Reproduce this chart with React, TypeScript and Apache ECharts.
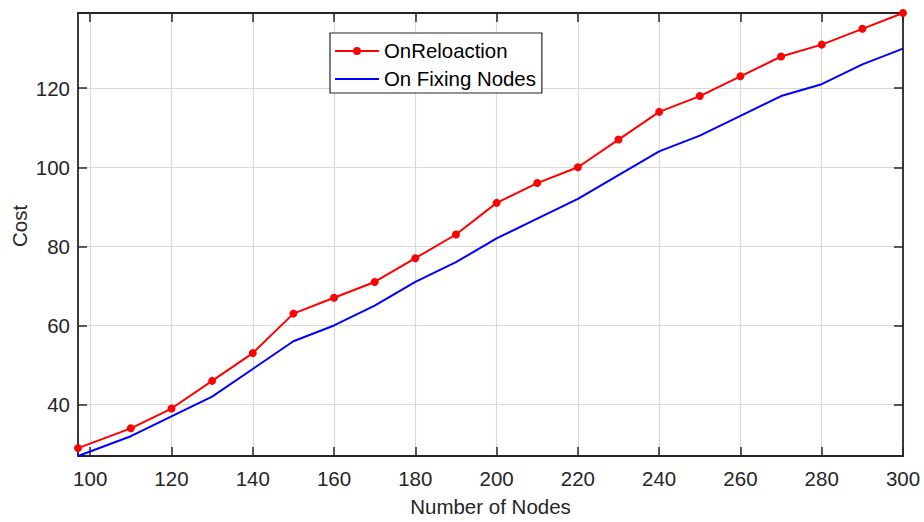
import React, { useEffect, useRef } from "react";
import * as echarts from "echarts";

const xValues = [97, 110, 120, 130, 140, 150, 160, 170, 180, 190, 200, 210, 220, 230, 240, 250, 260, 270, 280, 290, 300];
const relocation = [29, 34, 39, 46, 53, 63, 67, 71, 77, 83, 91, 96, 100, 107, 114, 118, 123, 128, 131, 135, 139];
const fixing = [27, 32, 37, 42, 49, 56, 60, 65, 71, 76, 82, 87, 92, 98, 104, 108, 113, 118, 121, 126, 130];
const xTicks = [100, 120, 140, 160, 180, 200, 220, 240, 260, 280, 300];
const yTicks = [40, 60, 80, 100, 120];

const FONT = "'Liberation Sans', Arial, Helvetica, sans-serif";
const AXIS_COLOR = "#262626";
const TICK_FONT = 20.5;

export default function App() {
  const ref = useRef<HTMLDivElement>(null);
  useEffect(() => {
    if (!ref.current) return;
    const chart = echarts.init(ref.current, null, { renderer: "svg" });
    const xMin = 97, xMax = 300, yMin = 27, yMax = 139;
    const baseAxisLine = { show: true, onZero: false, lineStyle: { color: AXIS_COLOR, width: 1.8 } };
    const redIcon = "path://M0,6 L18,6 L18,8 L0,8 Z M26,6 L44,6 L44,8 L26,8 Z M18,7 A4,4 0 1 0 26,7 A4,4 0 1 0 18,7 Z";
    const blueIcon = "path://M0,0 L44,0 L44,2 L0,2 Z";
    chart.setOption({
      animation: false,
      backgroundColor: "#ffffff",
      textStyle: { fontFamily: FONT },
      grid: { left: 78, right: 21, top: 13, bottom: 65, containLabel: false },
      legend: {
        orient: "vertical",
        left: 330,
        top: 33,
        padding: [8, 6, 4, 5],
        itemGap: 8,
        itemWidth: 44,
        itemHeight: 14,
        backgroundColor: "#ffffff",
        borderColor: "#262626",
        borderWidth: 1.2,
        borderRadius: 0,
        textStyle: { fontFamily: FONT, fontSize: 20.4, color: "#000000", padding: [0, 0, 0, 0] },
        data: [
          { name: "OnReloaction", icon: redIcon },
          { name: "On Fixing Nodes", icon: blueIcon },
        ],
      },
      xAxis: [
        {
          type: "value",
          min: xMin,
          max: xMax,
          position: "bottom",
          axisLine: baseAxisLine,
          axisTick: { show: true, inside: true, length: 9, customValues: xTicks, lineStyle: { color: AXIS_COLOR, width: 1.5 } },
          axisLabel: { show: true, customValues: xTicks, margin: 12, fontSize: TICK_FONT, color: AXIS_COLOR, fontFamily: FONT },
          splitLine: { show: true, lineStyle: { color: "#d9d9d9", width: 1.2 } },
          name: "Number of Nodes",
          nameLocation: "middle",
          nameGap: 40,
          nameTextStyle: { fontSize: TICK_FONT, color: AXIS_COLOR, fontFamily: FONT },
        },
        {
          type: "value",
          min: xMin,
          max: xMax,
          position: "top",
          axisLine: baseAxisLine,
          axisTick: { show: true, inside: true, length: 9, customValues: xTicks, lineStyle: { color: AXIS_COLOR, width: 1.5 } },
          axisLabel: { show: false },
          splitLine: { show: false },
        },
      ],
      yAxis: [
        {
          type: "value",
          min: yMin,
          max: yMax,
          position: "left",
          axisLine: baseAxisLine,
          axisTick: { show: true, inside: true, length: 9, customValues: yTicks, lineStyle: { color: AXIS_COLOR, width: 1.5 } },
          axisLabel: { show: true, customValues: yTicks, margin: 8, fontSize: TICK_FONT, color: AXIS_COLOR, fontFamily: FONT },
          splitLine: { show: true, lineStyle: { color: "#d9d9d9", width: 1.2 } },
        },
        {
          type: "value",
          min: yMin,
          max: yMax,
          position: "right",
          axisLine: baseAxisLine,
          axisTick: { show: true, inside: true, length: 9, customValues: yTicks, lineStyle: { color: AXIS_COLOR, width: 1.5 } },
          axisLabel: { show: false },
          splitLine: { show: false },
        },
      ],
      graphic: [
        {
          type: "text",
          x: 19,
          y: 226,
          rotation: Math.PI / 2,
          style: {
            text: "Cost",
            fontSize: TICK_FONT,
            fontFamily: FONT,
            fill: AXIS_COLOR,
            textAlign: "center",
            textVerticalAlign: "middle",
          },
        },
      ],
      series: [
        {
          name: "OnReloaction",
          type: "line",
          xAxisIndex: 0,
          yAxisIndex: 0,
          data: xValues.map((x, i) => [x, relocation[i]]),
          symbol: "circle",
          symbolSize: 8,
          clip: false,
          lineStyle: { color: "#ff0000", width: 2 },
          itemStyle: { color: "#ff0000" },
          z: 3,
        },
        {
          name: "On Fixing Nodes",
          type: "line",
          xAxisIndex: 0,
          yAxisIndex: 0,
          data: xValues.map((x, i) => [x, fixing[i]]),
          symbol: "none",
          clip: false,
          lineStyle: { color: "#0000ff", width: 2 },
          itemStyle: { color: "#0000ff" },
          z: 2,
        },
      ],
    });
    return () => chart.dispose();
  }, []);
  return <div ref={ref} style={{ width: 924, height: 522, position: "absolute", left: 0, top: 0 }} />;
}
